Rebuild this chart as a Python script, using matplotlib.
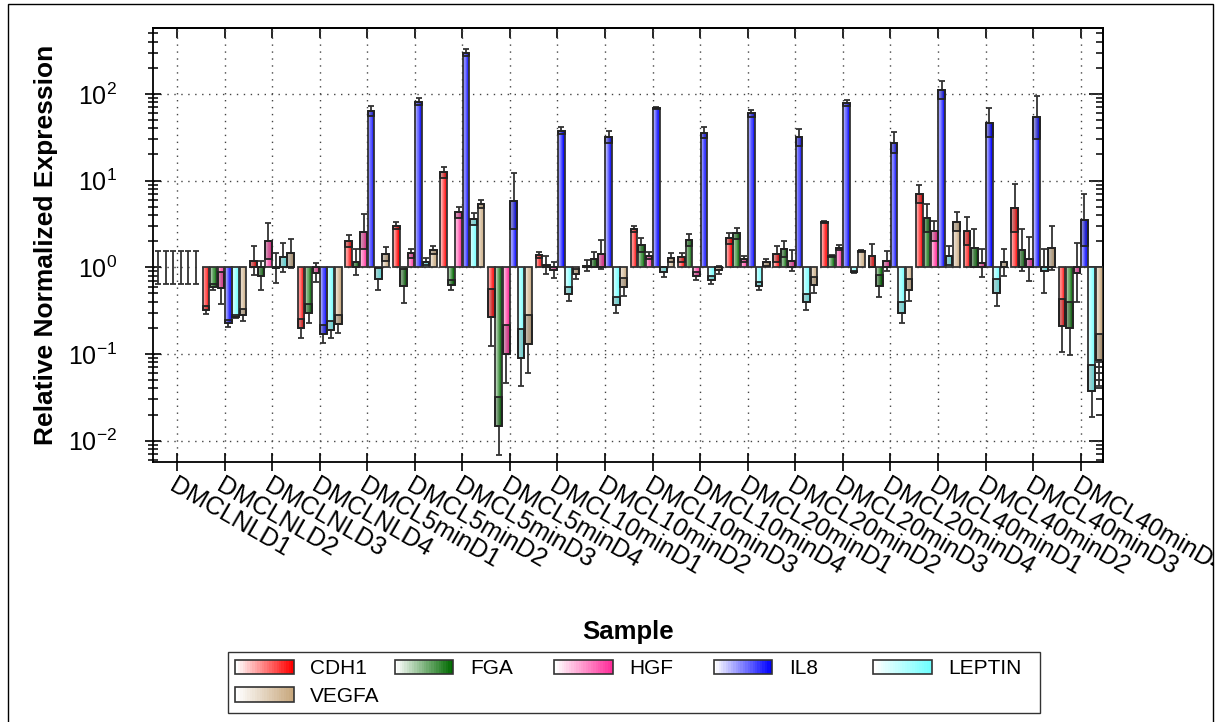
import numpy as np
import matplotlib
matplotlib.use('Agg')
import matplotlib.pyplot as plt
from matplotlib.patches import Rectangle, Patch
from matplotlib.legend_handler import HandlerBase
from matplotlib.colors import to_rgb
from matplotlib.transforms import Bbox, TransformedBbox

plt.rcParams['font.family'] = ['Liberation Sans', 'DejaVu Sans']

samples = ['DMCLNLD1', 'DMCLNLD2', 'DMCLNLD3', 'DMCLNLD4',
           'DMCL5minD1', 'DMCL5minD2', 'DMCL5minD3', 'DMCL5minD4',
           'DMCL10minD1', 'DMCL10minD2', 'DMCL10minD3', 'DMCL10minD4',
           'DMCL20minD1', 'DMCL20minD2', 'DMCL20minD3', 'DMCL20minD4',
           'DMCL40minD1', 'DMCL40minD2', 'DMCL40minD3', 'DMCL40minD4']
genes = ['CDH1', 'FGA', 'HGF', 'IL8', 'LEPTIN', 'VEGFA']
colors = ['#FF0000', '#006A00', '#FF2E9A', '#0000FF', '#70FFFF', '#C8A87E']

# relative normalized expression (fold change vs DMCLNLD1)
cdh1 = [1, 0.32, 1.19, 0.198, 2.0, 3.03, 12.4, 0.265, 1.39, 1.04, 2.77, 1.30, 2.16, 1.41, 3.30, 1.36, 7.0, 2.65, 4.8, 0.212]
fga = [1, 0.59, 0.80, 0.295, 1.14, 0.61, 0.625, 0.0149, 1.06, 1.24, 1.81, 2.07, 2.47, 1.63, 1.36, 0.61, 3.74, 1.66, 1.57, 0.198]
hgf = [1, 0.57, 2.01, 0.87, 2.58, 1.45, 4.3, 0.1, 0.93, 1.41, 1.36, 0.80, 1.24, 1.19, 1.69, 1.19, 2.63, 1.11, 1.26, 0.87]
il8 = [1, 0.226, 0.98, 0.17, 63.6, 81.5, 300, 5.8, 37.8, 32.2, 69.5, 35.8, 59.8, 31.6, 78, 27.4, 111, 46.7, 53.8, 3.52]
leptin = [1, 0.27, 1.30, 0.19, 0.73, 1.16, 3.6, 0.091, 0.49, 0.37, 0.89, 0.71, 0.61, 0.40, 0.875, 0.30, 1.36, 0.51, 0.915, 0.0377]
vegfa = [1, 0.28, 1.45, 0.22, 1.42, 1.58, 5.4, 0.13, 0.83, 0.59, 1.29, 0.93, 1.14, 0.625, 1.54, 0.55, 3.37, 1.14, 1.69, 0.085]

# error as log10 fold
cdh1_err = [0.19, 0.046, 0.165, 0.108, 0.069, 0.042, 0.069, 0.327, 0.038, 0.065, 0.035, 0.054, 0.065, 0.092, 0.012, 0.135, 0.1, 0.162, 0.277, 0.308]
fga_err = [0.19, 0.035, 0.165, 0.112, 0.15, 0.2, 0.062, 0.335, 0.104, 0.088, 0.077, 0.073, 0.062, 0.096, 0.012, 0.127, 0.162, 0.219, 0.242, 0.304]
hgf_err = [0.19, 0.185, 0.212, 0.115, 0.2, 0.05, 0.062, 0.331, 0.096, 0.165, 0.042, 0.046, 0.035, 0.119, 0.027, 0.115, 0.112, 0.162, 0.254, 0.338]
il8_err = [0.19, 0.042, 0.173, 0.104, 0.058, 0.038, 0.042, 0.327, 0.035, 0.069, 0.012, 0.062, 0.038, 0.1, 0.035, 0.123, 0.104, 0.165, 0.246, 0.304]
leptin_err = [0.19, 0.019, 0.169, 0.1, 0.123, 0.038, 0.073, 0.331, 0.081, 0.092, 0.058, 0.046, 0.046, 0.092, 0.012, 0.123, 0.108, 0.158, 0.254, 0.3]
vegfa_err = [0.19, 0.069, 0.169, 0.104, 0.085, 0.042, 0.046, 0.331, 0.058, 0.1, 0.054, 0.046, 0.038, 0.096, 0.012, 0.127, 0.108, 0.158, 0.254, 0.3]

values = [cdh1, fga, hgf, il8, leptin, vegfa]
errors = [cdh1_err, fga_err, hgf_err, il8_err, leptin_err, vegfa_err]


def shade(c, t, lo=0.25):
    rgb = np.array(to_rgb(c))
    f = lo + (1 - lo) * t
    return tuple(1 - (1 - rgb) * f)


class GradHandler(HandlerBase):
    def create_artists(self, legend, orig_handle, xdescent, ydescent, width, height, fontsize, trans):
        col = orig_handle.get_facecolor()
        n = 24
        arts = []
        for k in range(n):
            arts.append(Rectangle((-xdescent + k * width / n, -ydescent), width / n * 1.1, height,
                                  facecolor=shade(col, k / (n - 1), 0.0), edgecolor='none', transform=trans))
        arts.append(Rectangle((-xdescent, -ydescent), width, height, fill=False,
                              edgecolor='#333333', lw=1.2, transform=trans))
        return arts


fig = plt.figure(figsize=(12.29, 7.22), dpi=100)
ax = fig.add_axes([153 / 1229, 1 - 462 / 722, 950 / 1229, 434 / 722])
ax.set_yscale('log')
ax.set_axisbelow(True)

x = np.arange(len(samples))
pitch = 0.156
bw = 0.14
nsl = 12

for j, (vals, errs, col) in enumerate(zip(values, errors, colors)):
    vals = np.array(vals, dtype=float)
    errs = np.array(errs)
    xc = x + (j - 2.5) * pitch
    lo = vals / 10 ** errs
    hi = vals * 10 ** errs
    ax.errorbar(xc, vals, yerr=[vals - lo, hi - vals], fmt='none', ecolor='#333333',
                elinewidth=1.3, capsize=2.5, capthick=1.3, zorder=2)
    m = vals != 1
    bottom = np.minimum(vals, 1)[m]
    height = np.abs(vals - 1)[m]
    for k in range(nsl):
        ax.bar(xc[m] - bw / 2 + k * bw / nsl, height, width=bw / nsl * 1.08, bottom=bottom,
               align='edge', color=shade(col, k / (nsl - 1)), linewidth=0, zorder=3)
    ax.bar(xc[m], height, width=bw, bottom=bottom, fill=False, edgecolor='#333333',
           linewidth=1.3, zorder=4)
    # inner part of the error range drawn as a box inside the bar
    inner = np.where(vals >= 1, np.maximum(lo, 1), np.minimum(hi, 1))
    bb = np.minimum(vals, inner)[m]
    bh = np.abs(vals - inner)[m]
    ax.bar(xc[m], bh, width=bw, bottom=bb, facecolor=(0, 0, 0, 0.18), edgecolor='#222222',
           linewidth=1.3, zorder=5)

ax.set_xlim(-0.505, 19.47)
ax.set_ylim(10 ** -2.246, 10 ** 2.76)

ax.set_xticks(x)
ax.set_xticklabels(samples, rotation=-30, ha='left', va='top', rotation_mode='anchor', fontsize=18)
ax.tick_params(axis='x', which='major', direction='inout', length=13, width=1.2, pad=2)
ax.tick_params(axis='x', which='minor', bottom=False)
ax.tick_params(axis='y', which='major', direction='inout', length=12, width=1.2, labelsize=18, pad=20)
ax.tick_params(axis='y', which='minor', direction='inout', length=7, width=1.1)

# labels are cut at the outer frame
clip = TransformedBbox(Bbox([[0, 0], [1213 / 1229, 1]]), fig.transFigure)
for lab in ax.get_xticklabels():
    lab.set_clip_on(True)
    lab.set_clip_box(clip)

top = ax.secondary_xaxis('top')
top.set_xticks(x)
top.tick_params(direction='in', length=7, width=1.2, labeltop=False)
right = ax.secondary_yaxis('right')
right.tick_params(which='major', direction='in', length=10, width=1.2, labelright=False)
right.tick_params(which='minor', direction='in', length=5, width=1.1, labelright=False)
for s in list(ax.spines.values()) + [top.spines['top'], right.spines['right']]:
    s.set_linewidth(1.3)

ax.grid(True, which='major', linestyle=(0, (1, 4)), color='#444444', linewidth=1)

ax.set_ylabel('Relative Normalized Expression', fontsize=19, fontweight='bold')
ax.yaxis.set_label_coords(-0.1, 0.5)
ax.set_xlabel('Sample', fontsize=18.5, fontweight='bold')
ax.xaxis.set_label_coords(0.5, -0.365)

# legend fills column-wise, so order handles to read row-wise
order = [0, 5, 1, 2, 3, 4]
handles = [Patch(facecolor=colors[i], label=genes[i]) for i in order]
leg = fig.legend(handles=handles, loc='lower left',
                 bbox_to_anchor=(228 / 1229, 1 - 713 / 722, (1040 - 228) / 1229, 57 / 722),
                 mode='expand', ncol=5, frameon=True, fancybox=False, edgecolor='black',
                 handler_map={Patch: GradHandler()},
                 prop={'family': ['Liberation Sans Narrow', 'Liberation Sans'], 'size': 15},
                 handlelength=2.8, handleheight=0.7, borderaxespad=0, borderpad=0.35,
                 labelspacing=0.4, handletextpad=0.8)
leg.get_frame().set_linewidth(1.0)
# equal column pitch, like the original legend
hb = leg._legend_handle_box
hb.mode = 'equal'
hb.set_width(1040 - 228 - 2 * 0.35 * 15 * 100 / 72)

fig.patches.append(Rectangle((8 / 1229, -0.01), (1213 - 8) / 1229, 1 - 4 / 722 + 0.01,
                             transform=fig.transFigure, fill=False, edgecolor='black', lw=1))

fig.savefig('out.png', dpi=100)
